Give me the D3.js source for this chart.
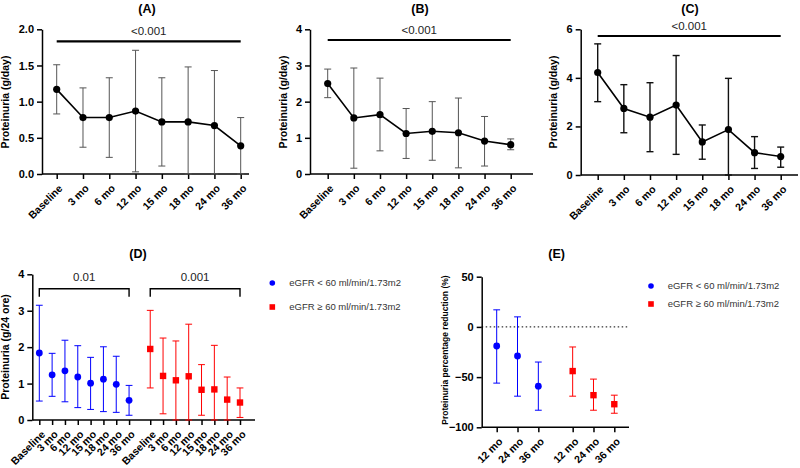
<!DOCTYPE html>
<html><head><meta charset="utf-8">
<script src="https://cdn.jsdelivr.net/npm/d3@7"></script>
<style>body{margin:0;background:#fff}svg{font-family:"Liberation Sans",Arial,sans-serif}</style>
</head><body><svg id="c" width="800" height="468"></svg>
<script>
// ---------- data ----------
const timepoints = ["Baseline","3 mo","6 mo","12 mo","15 mo","18 mo","24 mo","36 mo"];

const meanA = [1.17,0.78,0.78,0.87,0.72,0.72,0.67,0.39];
const upA   = [1.51,1.19,1.33,1.71,1.33,1.48,1.43,0.78];
const lowA  = [0.83,0.37,0.23,0.03,0.11,0.00,0.00,0.00];

const meanB = [2.50,1.55,1.64,1.12,1.18,1.14,0.91,0.81];
const upB   = [2.90,2.93,2.65,1.81,2.00,2.10,1.59,0.97];
const lowB  = [2.11,0.16,0.64,0.43,0.38,0.17,0.22,0.67];

const meanC = [4.22,2.74,2.38,2.88,1.36,1.87,0.92,0.76];
const upC   = [5.40,3.72,3.80,4.92,2.06,3.98,1.58,1.15];
const lowC  = [3.02,1.74,0.96,0.85,0.65,0.00,0.27,0.32];

const meanDlow  = [1.84,1.24,1.35,1.18,1.01,1.12,0.98,0.54];
const upDlow    = [3.15,1.83,2.19,2.04,1.72,2.01,1.75,0.95];
const lowDlow   = [0.52,0.65,0.50,0.34,0.29,0.23,0.21,0.13];
const meanDhigh = [1.95,1.21,1.09,1.20,0.83,0.84,0.56,0.48];
const upDhigh   = [3.01,2.25,2.17,2.63,1.52,2.05,1.18,0.88];
const lowDhigh  = [0.88,0.17,0.00,0.00,0.13,0.00,0.00,0.07];

const eTimepoints = ["12 mo","24 mo","36 mo"];
const meanElow  = [-19,-29,-59];
const upElow    = [17,10,-35];
const lowElow   = [-56,-69,-83];
const meanEhigh = [-44,-68,-77];
const upEhigh   = [-20,-52,-68];
const lowEhigh  = [-69,-83,-86];

const legendLabels = ["eGFR < 60 ml/min/1.73m2","eGFR \u2265 60 ml/min/1.73m2"];
const pLabelsTop = ["<0.001","<0.001","<0.001"];
const pLabelsD = ["0.01","0.001"];

// ---------- drawing ----------
const svg = d3.select("#c");
const BLUE = "#0000ff", RED = "#ff0000";

function styleAxis(g, fs){
  g.select(".domain").attr("stroke","#000").attr("stroke-width",1.5);
  g.selectAll(".tick line").attr("stroke","#000").attr("stroke-width",1.5);
  g.selectAll(".tick text").attr("fill","#000").attr("font-weight","bold").attr("font-size",fs).attr("font-family","'Liberation Sans',Arial,sans-serif");
}

function yAxis(ax, y, ticks, fmt){
  const g = svg.append("g").attr("transform",`translate(${ax},0)`)
    .call(d3.axisLeft(y).tickValues(ticks).tickFormat(fmt).tickSize(5).tickSizeOuter(0).tickPadding(3));
  styleAxis(g, 11);
  return g;
}

function xAxis(x, y0, idx, labels, fs, ax, axEnd){
  svg.append("line").attr("x1",ax).attr("x2",axEnd).attr("y1",y0).attr("y2",y0)
    .attr("stroke","#000").attr("stroke-width",1.5);
  const g = svg.append("g").attr("transform",`translate(0,${y0})`)
    .call(d3.axisBottom(x).tickValues(idx).tickFormat((d,i)=>labels[i]).tickSize(5).tickSizeOuter(0));
  g.select(".domain").remove();
  styleAxis(g, fs);
  g.selectAll(".tick text").attr("text-anchor","end").attr("dy",null).attr("y",null)
    .attr("transform","translate(6,15) rotate(-45)");
}

function title(t, x, y){
  svg.append("text").attr("x",x).attr("y",y).attr("text-anchor","middle")
    .attr("font-weight","bold").attr("font-size",12.5).text(t);
}
function yLabel(t, x, y, fs){
  svg.append("text").attr("transform",`translate(${x},${y}) rotate(-90)`).attr("text-anchor","middle")
    .attr("font-weight","bold").attr("font-size",fs).text(t);
}

function errBars(g, xs, y, up, low, color, w, cap){
  g.selectAll(null).data(xs).enter().append("line")
    .attr("x1",d=>d).attr("x2",d=>d).attr("y1",(d,i)=>y(up[i])).attr("y2",(d,i)=>y(low[i]))
    .attr("stroke",color).attr("stroke-width",w);
  [up,low].forEach(arr=>{
    g.selectAll(null).data(xs).enter().append("line")
      .attr("x1",d=>d-cap).attr("x2",d=>d+cap).attr("y1",(d,i)=>y(arr[i])).attr("y2",(d,i)=>y(arr[i]))
      .attr("stroke",color).attr("stroke-width",w);
  });
}

function linePanel(cfg){
  const x = d3.scaleLinear().domain([0,timepoints.length-1]).range(cfg.xr);
  const y = d3.scaleLinear().domain(cfg.yd).range(cfg.yr);
  yAxis(cfg.ax, y, cfg.yticks, cfg.fmt);
  const idx = timepoints.map((d,i)=>i);
  xAxis(x, y(0), idx, timepoints, 10.5, cfg.ax, cfg.axEnd);
  const g = svg.append("g");
  const xs = idx.map(i=>x(i));
  errBars(g, xs, y, cfg.up, cfg.low, cfg.ebColor, cfg.ebW, 3.5);
  g.append("path").datum(cfg.mean).attr("fill","none").attr("stroke","#000").attr("stroke-width",1.6)
    .attr("d", d3.line().x((d,i)=>x(i)).y(d=>y(d)));
  g.selectAll(null).data(cfg.mean).enter().append("circle")
    .attr("cx",(d,i)=>x(i)).attr("cy",d=>y(d)).attr("r",3.6).attr("fill","#000");
  // significance bar
  svg.append("line").attr("x1",x(0)).attr("x2",x(timepoints.length-1)).attr("y1",cfg.sigY).attr("y2",cfg.sigY)
    .attr("stroke","#000").attr("stroke-width",2.2);
  svg.append("text").attr("x",(x(0)+x(timepoints.length-1))/2).attr("y",cfg.sigY-6).attr("text-anchor","middle")
    .attr("font-size",11.5).attr("fill","#222").text(cfg.p);
  title(cfg.title, cfg.tx, 13);
  yLabel("Proteinuria (g/day)", cfg.lx, 102, 10.5);
}

linePanel({title:"(A)", tx:147, ax:42, axEnd:249, xr:[56.7,240.7], yd:[0,2], yr:[174,29.3], yticks:[0,0.5,1,1.5,2],
  fmt:d3.format(".1f"), mean:meanA, up:upA, low:lowA, ebColor:"#555", ebW:1, sigY:41.3, p:pLabelsTop[0], lx:9});
linePanel({title:"(B)", tx:420, ax:310, axEnd:533, xr:[327.7,510.7], yd:[0,4], yr:[174,29.3], yticks:[0,1,2,3,4],
  fmt:d3.format("d"), mean:meanB, up:upB, low:lowB, ebColor:"#555", ebW:1, sigY:40, p:pLabelsTop[1], lx:287});
linePanel({title:"(C)", tx:690, ax:580.7, axEnd:798, xr:[597.7,780.7], yd:[0,6], yr:[175,29.3], yticks:[0,2,4,6],
  fmt:d3.format("d"), mean:meanC, up:upC, low:lowC, ebColor:"#111", ebW:1.4, sigY:36, p:pLabelsTop[2], lx:557});

// ---------- Panel D ----------
(function(){
  const gap = 0.65;
  const posLow = timepoints.map((d,i)=>i);
  const posHigh = timepoints.map((d,i)=>i+timepoints.length+gap);
  const x = d3.scaleLinear().domain([0, posHigh[posHigh.length-1]]).range([39.3,240]);
  const y = d3.scaleLinear().domain([0,4]).range([420,274.3]);
  yAxis(32.3, y, [0,1,2,3,4], d3.format("d"));
  xAxis(x, y(0), posLow.concat(posHigh), timepoints.concat(timepoints), 10.5, 32.3, 255);
  const g = svg.append("g");
  errBars(g, posLow.map(x), y, upDlow, lowDlow, BLUE, 1, 3.4);
  errBars(g, posHigh.map(x), y, upDhigh, lowDhigh, RED, 1, 3.4);
  g.selectAll(null).data(meanDlow).enter().append("circle")
    .attr("cx",(d,i)=>x(posLow[i])).attr("cy",d=>y(d)).attr("r",3.4).attr("fill",BLUE);
  g.selectAll(null).data(meanDhigh).enter().append("rect")
    .attr("x",(d,i)=>x(posHigh[i])-3.2).attr("y",d=>y(d)-3.2).attr("width",6.4).attr("height",6.4).attr("fill",RED);
  // brackets
  [[posLow,pLabelsD[0]],[posHigh,pLabelsD[1]]].forEach(([p,lab])=>{
    const x0 = x(p[0]), x1 = x(p[p.length-1]), by = 288.7;
    svg.append("path").attr("d",`M${x0},${by+8}V${by}H${x1}V${by+8}`).attr("fill","none")
      .attr("stroke","#000").attr("stroke-width",1.4);
    svg.append("text").attr("x",(x0+x1)/2).attr("y",by-8).attr("text-anchor","middle")
      .attr("font-size",11.5).attr("fill","#222").text(lab);
  });
  title("(D)", 138, 258);
  yLabel("Proteinuria (g/24 ore)", 9, 347, 10.5);
  legend(272.3, 283, 289.3, 24);
})();

// ---------- Panel E ----------
(function(){
  const gap = 0.65;
  const posLow = eTimepoints.map((d,i)=>i);
  const posHigh = eTimepoints.map((d,i)=>i+eTimepoints.length+gap);
  const x = d3.scaleLinear().domain([0,posHigh[posHigh.length-1]]).range([496.7,614.3]);
  const y = d3.scaleLinear().domain([-100,50]).range([427.3,276.7]);
  yAxis(481.7, y, [-100,-50,0,50], d3.format("d"));
  xAxis(x, y(-100), posLow.concat(posHigh), eTimepoints.concat(eTimepoints), 10.5, 481.7, 629);
  svg.append("line").attr("x1",481.7).attr("x2",629).attr("y1",y(0)).attr("y2",y(0))
    .attr("stroke","#000").attr("stroke-width",1).attr("stroke-dasharray","1.5,2.5");
  const g = svg.append("g");
  errBars(g, posLow.map(x), y, upElow, lowElow, BLUE, 1, 3.4);
  errBars(g, posHigh.map(x), y, upEhigh, lowEhigh, RED, 1, 3.4);
  g.selectAll(null).data(meanElow).enter().append("circle")
    .attr("cx",(d,i)=>x(posLow[i])).attr("cy",d=>y(d)).attr("r",3.4).attr("fill",BLUE);
  g.selectAll(null).data(meanEhigh).enter().append("rect")
    .attr("x",(d,i)=>x(posHigh[i])-3.2).attr("y",d=>y(d)-3.2).attr("width",6.4).attr("height",6.4).attr("fill",RED);
  title("(E)", 556.7, 258);
  yLabel("Proteinuria percentage reduction (%)", 448, 350, 8.5);
  legend(651, 286, 667.7, 18);
})();

function legend(mx, my, tx, dy){
  svg.append("circle").attr("cx",mx).attr("cy",my).attr("r",2.8).attr("fill",BLUE);
  svg.append("rect").attr("x",mx-2.8).attr("y",my+dy-2.8).attr("width",5.6).attr("height",5.6).attr("fill",RED);
  legendLabels.forEach((t,i)=>{
    svg.append("text").attr("x",tx).attr("y",my+i*dy).attr("dy","0.35em").attr("font-size",9.5)
      .attr("fill","#333").text(t);
  });
}
</script></body></html>
